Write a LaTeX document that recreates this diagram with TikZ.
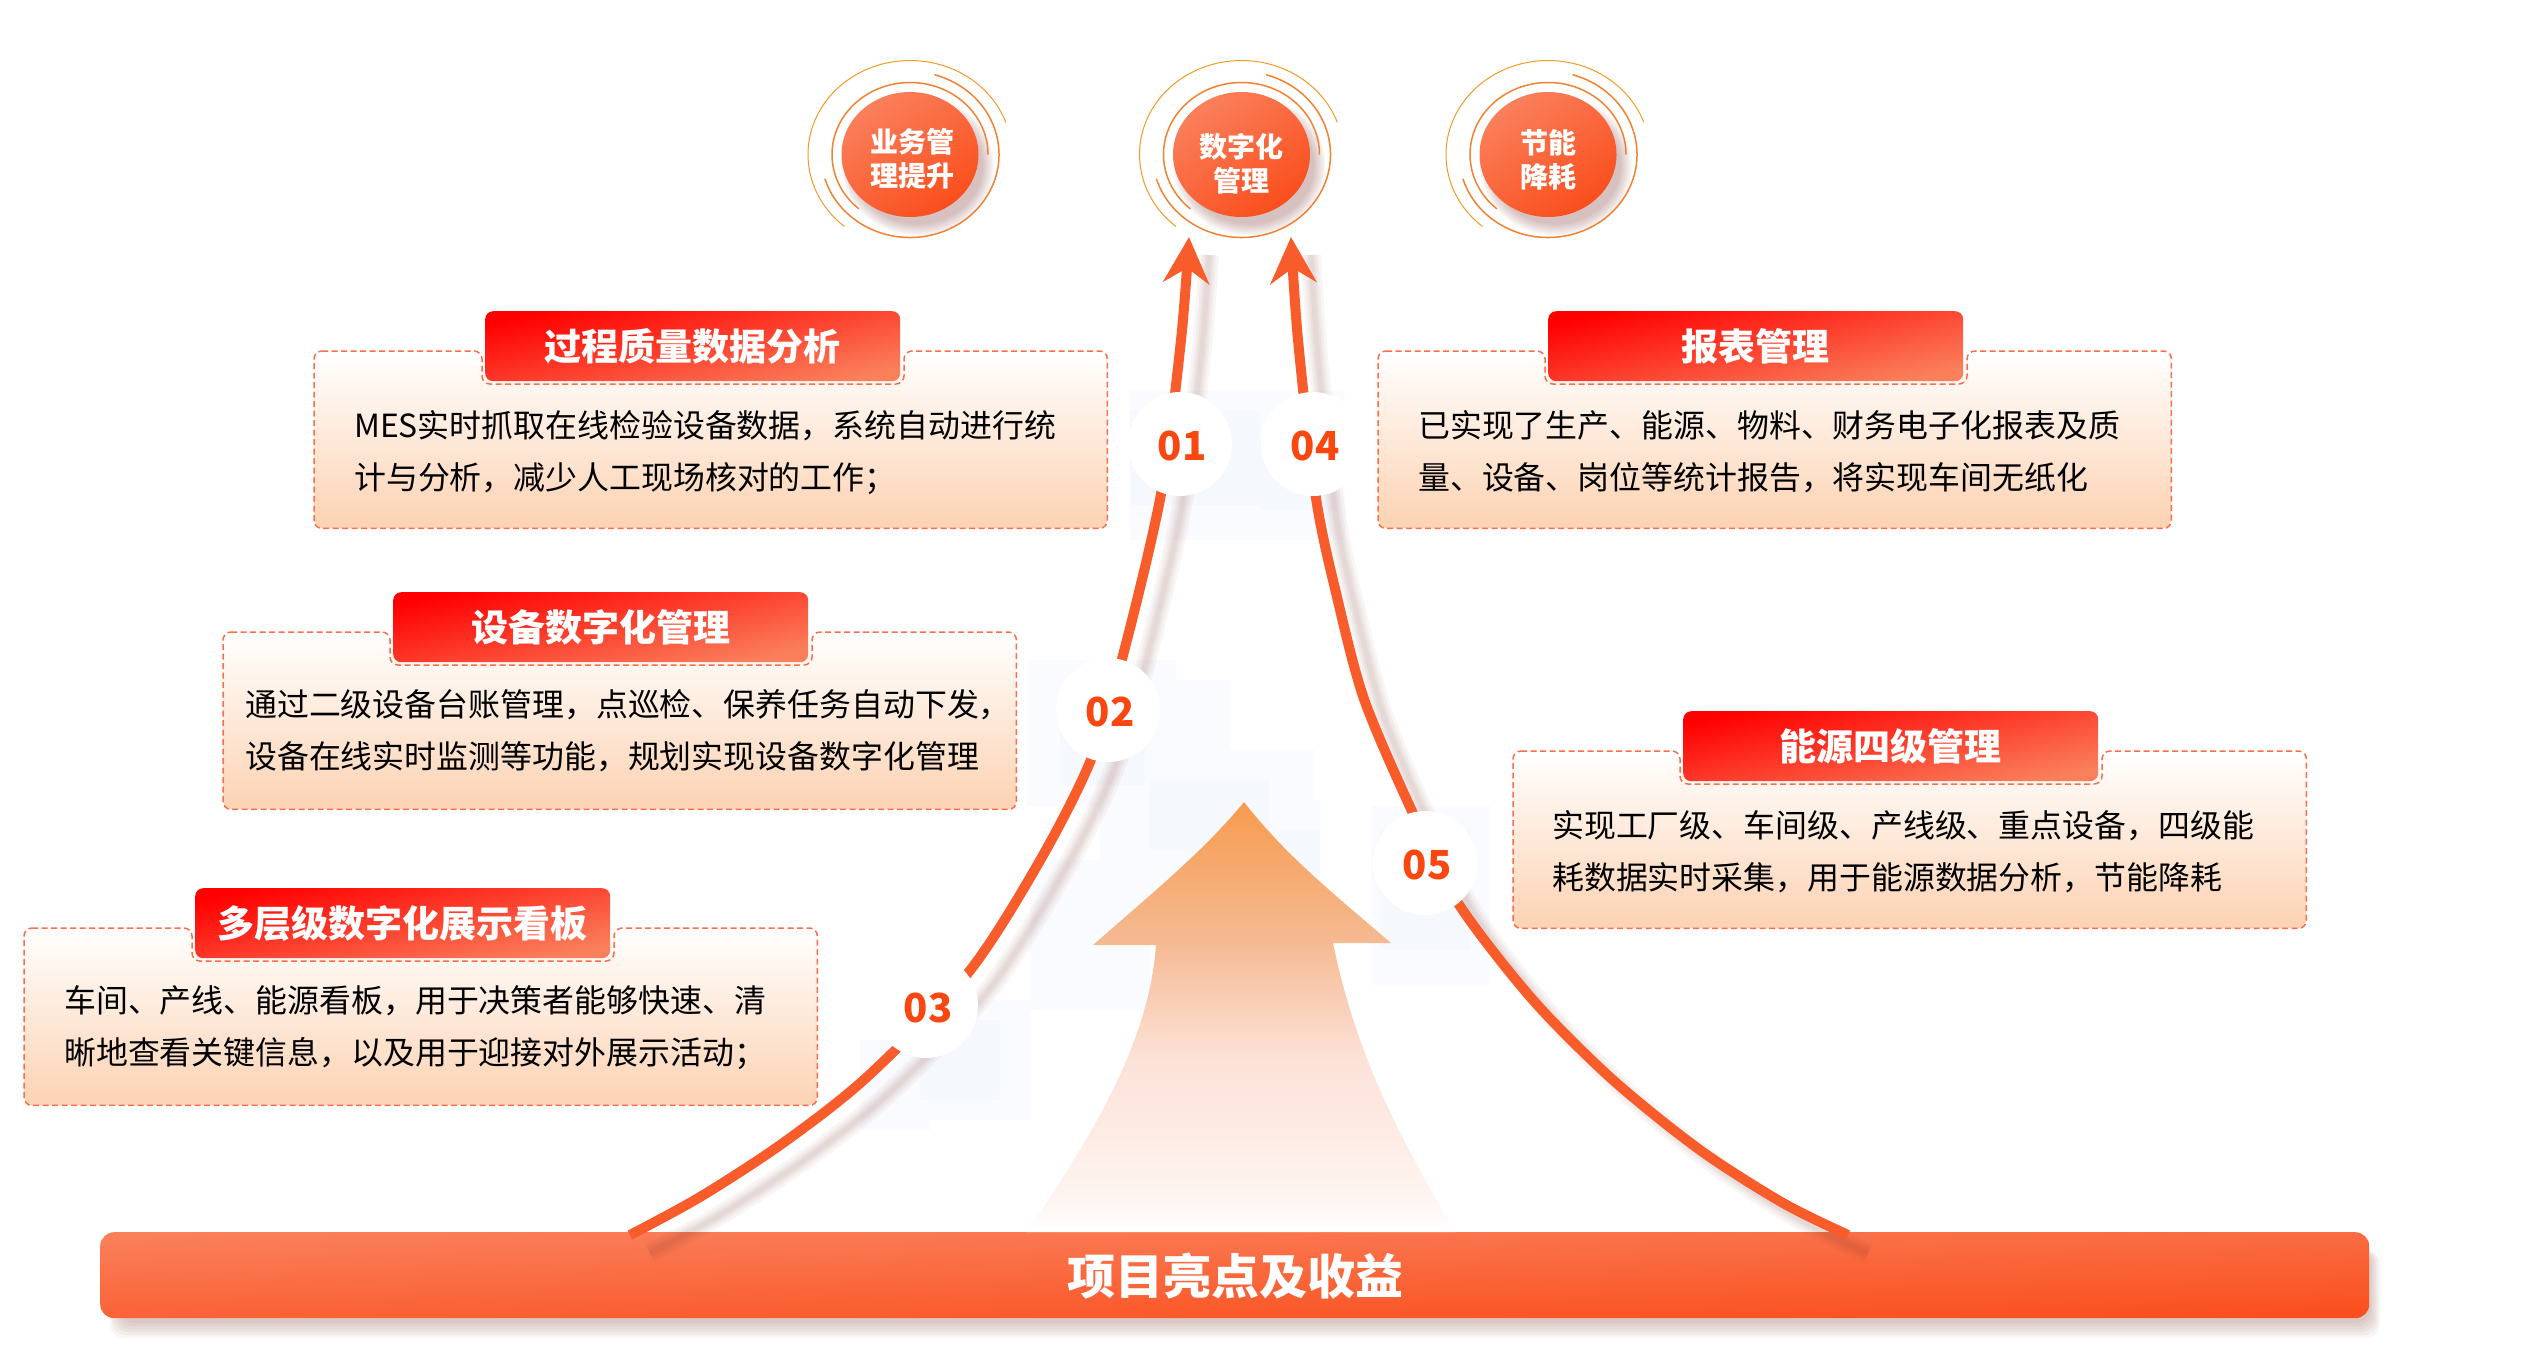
\documentclass[tikz,border=0pt]{standalone}
\usepackage{fontspec}
\setmainfont{Noto Sans CJK SC}
\usetikzlibrary{shapes.geometric,arrows.meta,calc}
\definecolor{curveor}{RGB}{248,92,42}
\definecolor{numor}{RGB}{250,70,15}
\definecolor{dashor}{RGB}{250,110,75}
\definecolor{ringo}{RGB}{240,130,50}
\definecolor{cardbot}{RGB}{252,210,178}
\definecolor{ballA}{RGB}{250,78,28}
\definecolor{ballB}{RGB}{250,128,92}
\definecolor{shadowc}{RGB}{130,60,55}
\definecolor{mosaicA}{RGB}{250,251,254}
\definecolor{mosaicB}{RGB}{245,248,252}
\definecolor{arA}{RGB}{254,244,240}
\definecolor{arB}{RGB}{252,226,216}
\definecolor{arC}{RGB}{245,185,145}
\definecolor{arD}{RGB}{247,155,78}
\pgfdeclareverticalshading{bigarrowsh}{100bp}{color(0bp)=(white); color(25bp)=(white); color(29bp)=(arA); color(45bp)=(arB); color(59bp)=(arC); color(75bp)=(arD); color(100bp)=(arD)}
\tikzset{
 x=1pt,y=-1pt,
 cardbox/.style={rectangle,anchor=north west,minimum width=793pt,minimum height=177pt,rounded corners=9pt,top color=white,bottom color=cardbot,inner sep=0pt},
 cardline/.style={draw=dashor,line width=1.5pt,dash pattern=on 6pt off 3.5pt,rounded corners=8pt},
 titlebox/.style={rectangle,anchor=north west,minimum width=415pt,minimum height=70pt,rounded corners=8pt,top color=red,bottom color=ballB,shading angle=12,text=white,font=\fontsize{37}{37}\selectfont\bfseries,inner sep=0pt},
 bodytext/.style={anchor=north west,align=left,inner sep=0pt,font=\fontsize{31.9}{52}\selectfont,text=black},
 numdot/.style={circle,fill=white,minimum size=104pt,inner sep=0pt},
 numtext/.style={inner sep=0pt,text=numor,font=\fontsize{40}{40}\selectfont\bfseries},
 ballnode/.style={ellipse,minimum width=137pt,minimum height=125pt,inner sep=0pt,top color=ballA,bottom color=ballB,shading angle=215},
 balltext/.style={inner sep=0pt,text=white,align=center,font=\fontsize{28}{34}\selectfont\bfseries},
 thickring/.style={draw=ringo,line width=1.5pt},
 thinring/.style={draw=ringo!80!yellow,line width=1pt},
 mainline/.style={draw=curveor,line width=10pt},
 curveshadow/.style={draw=shadowc,opacity=.05,transform canvas={xshift=20pt,yshift=-18pt}},
 barbox/.style={rectangle,anchor=north west,minimum width=2269pt,minimum height=86pt,rounded corners=14pt,top color=ballB,bottom color=ballA,shading angle=1.5,inner sep=0pt},
}
\newcommand{\cardm}[9]{%
 \node[cardbox] (#1) at (#2,#3) {};
 \path[cardline] ($(#1.north west)$) -- ++(#4-3,0) -- ++(0,33) -- ++(422,0) -- ++(0,-33) -- ($(#1.north east)$) -- ($(#1.south east)$) -- ($(#1.south west)$) -- cycle;
 \node[titlebox] (#1t) at (#2+#4,#3-40) {#5};
 \node[bodytext,anchor=west] (#1b) at (#2+#6,#3+#9) {#7\\#8};
}
\newcommand{\ballm}[5]{%
 \foreach \s in {0,...,7}{
  \fill[shadowc,opacity=.045] (#2+8,154.5+11) ellipse[x radius=76-\s*1.6,y radius=70-\s*1.6];
 }
 \node[ballnode] (#1) at (#2,154.5) {};
 \node[balltext] (#1t) at ([shift={(#5)}]#1) {#3\\#4};
 \path[thickring] (#1) ++(229:78pt and 72pt) arc[start angle=229,end angle=0,x radius=78pt,y radius=72pt];
 \path[thickring] (#1) ++(197:89pt and 83pt) arc[start angle=197,end angle=434,x radius=89pt,y radius=83pt];
 \path[thinring] (#1) ++(230:102pt and 94pt) arc[start angle=230,end angle=20,x radius=102pt,y radius=94pt];
}
\begin{document}
\begin{tikzpicture}
\useasboundingbox (0,0) rectangle (2548,1353);
\fill[white] (0,0) rectangle (2548,1353);
% faint mosaic
\foreach \a/\b/\c/\d in {1130/391/1345/540,1027/660/1176/806,1176/680/1230/760,1150/750/1314/800,1100/800/1320/940,1371/806/1490/985,1030/860/1150/1010,930/1000/1030/1120,860/1040/930/1130}{
 \fill[mosaicA] (\a,\b) rectangle (\c,\d);
}
\foreach \a/\b/\c/\d in {1130/410/1260/505,1260/440/1340/510,1060/720/1145/785,1150/780/1270/850,1380/830/1470/950,1280/830/1320/900,920/1020/1000/1100}{
 \fill[mosaicB] (\a,\b) rectangle (\c,\d);
}
% bottom bar
\foreach \s in {0,...,5}{
 \fill[shadowc,opacity=.05,rounded corners=14pt] (110+\s*2,1250) rectangle (2380-\s*2,1338-\s*3);
}
\node[barbox] (bar) at (100,1232) {};
\node[text=white,font=\fontsize{48}{48}\selectfont\bfseries,inner sep=0pt] (bartext) at (1235,1276) {项目亮点及收益};
% big arrow
\shade[shading=bigarrowsh] (1244,802) .. controls (1205,850) and (1150,895) .. (1093,945) -- (1156,945)
 .. controls (1150,1030) and (1105,1120) .. (1026,1232) -- (1455,1232)
 .. controls (1395,1130) and (1355,1050) .. (1333,943) -- (1391,943)
 .. controls (1335,895) and (1285,855) .. (1244,802) -- cycle;
% curves
\coordinate (la) at (630,1235);
\coordinate (lb) at (700,1197);
\coordinate (lc) at (783,1143);
\coordinate (ld) at (867,1077);
\coordinate (le) at (968,973);
\coordinate (lf) at (1038,864);
\coordinate (lg) at (1090,762);
\coordinate (lh) at (1122,659);
\coordinate (li) at (1161,494);
\coordinate (lj) at (1181,340);
\coordinate (lk) at (1189,237);
\coordinate (ra) at (1848,1235);
\coordinate (rb) at (1783,1203);
\coordinate (rc) at (1700,1150);
\coordinate (rd) at (1613,1080);
\coordinate (re) at (1533,1000);
\coordinate (rf) at (1458,903);
\coordinate (rg) at (1411,809);
\coordinate (rh) at (1364,699);
\coordinate (ri) at (1337,597);
\coordinate (rj) at (1316,498);
\coordinate (rk) at (1298,340);
\coordinate (rl) at (1291,237);
\foreach \w in {20,14,9,5}{
 \draw[curveshadow,line width=\w pt] plot[smooth] coordinates {(la)(lb)(lc)(ld)(le)(lf)(lg)(lh)(li)(lj)(lk)};
 \draw[curveshadow,line width=\w pt] plot[smooth] coordinates {(ra)(rb)(rc)(rd)(re)(rf)(rg)(rh)(ri)(rj)(rk)(rl)};
}
\draw[mainline,-{Stealth[length=46pt,width=46pt,inset=15pt,fill=curveor]}] plot[smooth] coordinates {(la)(lb)(lc)(ld)(le)(lf)(lg)(lh)(li)(lj)(lk)};
\draw[mainline,-{Stealth[length=46pt,width=46pt,inset=15pt,fill=curveor]}] plot[smooth] coordinates {(ra)(rb)(rc)(rd)(re)(rf)(rg)(rh)(ri)(rj)(rk)(rl)};
% numbered dots
\foreach \n/\t/\px/\py in {n1/01/1180/444,n2/02/1108/710,n3/03/926/1006,n4/04/1313/444,n5/05/1425/863}{
 \node[numdot] (\n) at (\px,\py) {};
 \node[numtext] (\n t) at (\px+2,\py+2) {\t};
}
% cards
\cardm{cardA}{314}{351}{171}{过程质量数据分析}{40}{MES实时抓取在线检验设备数据，系统自动进行统}{计与分析，减少人工现场核对的工作；}{102}
\cardm{cardB}{223}{632}{170}{设备数字化管理}{22}{通过二级设备台账管理，点巡检、保养任务自动下发，}{设备在线实时监测等功能，规划实现设备数字化管理}{99}
\cardm{cardC}{24}{928}{171}{多层级数字化展示看板}{40}{车间、产线、能源看板，用于决策者能够快速、清}{晰地查看关键信息，以及用于迎接对外展示活动；}{99.5}
\cardm{cardD}{1378}{351}{170}{报表管理}{40}{已实现了生产、能源、物料、财务电子化报表及质}{量、设备、岗位等统计报告，将实现车间无纸化}{100.5}
\cardm{cardE}{1513}{751}{170}{能源四级管理}{39}{实现工厂级、车间级、产线级、重点设备，四级能}{耗数据实时采集，用于能源数据分析，节能降耗}{100.5}
% balls
\ballm{ballA}{910}{业务管}{理提升}{2,4}
\ballm{ballB}{1241.5}{数字化}{管理}{0,9}
\ballm{ballC}{1548}{节能}{降耗}{0,5}
\end{tikzpicture}
\end{document}
